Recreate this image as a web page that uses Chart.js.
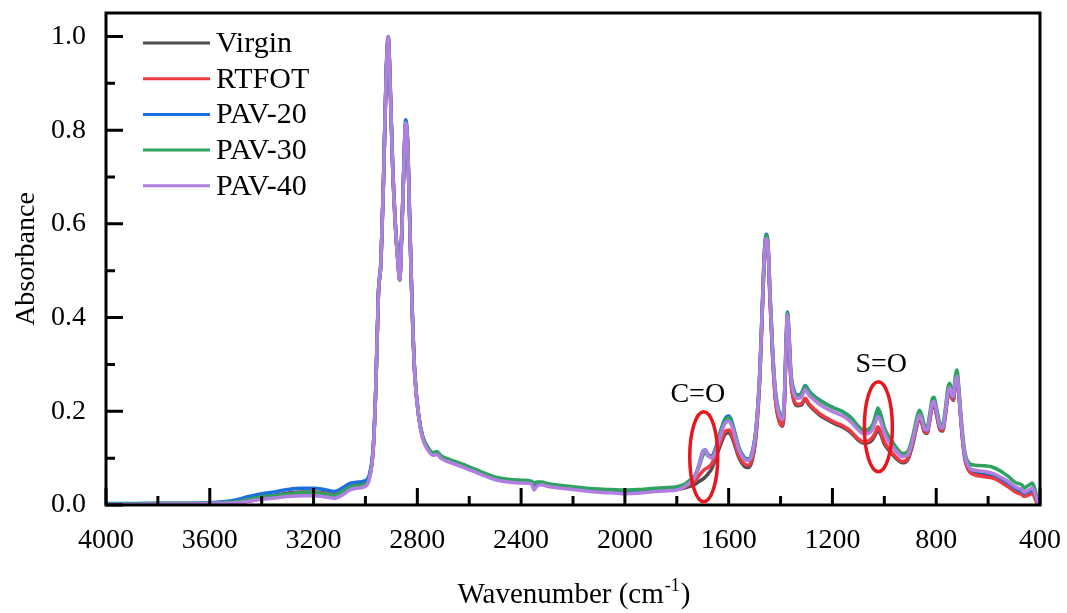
<!DOCTYPE html>
<html>
<head>
<meta charset="utf-8">
<script src="https://cdn.jsdelivr.net/npm/chart.js@4.4.1/dist/chart.umd.min.js"></script>
<style>
  html, body { margin: 0; padding: 0; background: #fff; }
  #wrap { width: 1067px; height: 613px; }
</style>
</head>
<body>
<div id="wrap"><canvas id="ftir" width="1067" height="613"></canvas></div>
<script>
// wavenumbers (cm-1), high to low
const wavenumbers = [
  4000, 3900, 3800, 3700, 3600, 3550, 3500, 3450, 3400, 3350, 3300, 3250, 3200, 3150, 3120, 3090, 3060, 3030, 3000,
  2985, 2970, 2960, 2950, 2940, 2930, 2920, 2912, 2905, 2895, 2885, 2875, 2868, 2860, 2852, 2845, 2838, 2830, 2820, 2810, 2795,
  2780, 2760, 2740, 2725, 2710, 2690, 2660, 2620, 2580, 2540, 2500, 2450, 2400, 2360, 2350, 2340, 2320, 2300, 2250, 2200, 2150, 2100, 2050, 2000, 1950, 1900, 1850, 1800,
  1770, 1750, 1730, 1715, 1700, 1690, 1680, 1665, 1650, 1630, 1615, 1600, 1590, 1575, 1560, 1540, 1525, 1510, 1495,
  1480, 1470, 1462, 1455, 1448, 1440, 1430, 1420, 1405, 1392, 1385, 1378, 1373, 1368, 1360, 1350,
  1335, 1320, 1305, 1290, 1270, 1250, 1220, 1190, 1160, 1130, 1100, 1080, 1060, 1045, 1032, 1025, 1015, 1000,
  985, 970, 950, 930, 910, 890, 875, 865, 855, 845, 835, 825, 815, 808, 798, 785, 775, 765, 755, 748, 740, 734, 727, 720, 712, 705,
  695, 685, 670, 650, 620, 600, 580, 560, 540, 520, 500, 485, 470, 460, 450, 440, 430, 420, 410, 400
];

const virgin = [
  .002, .002, .003, .003, .004, .005, .008, .013, .018, .021, .025, .028, .028, .025, .022, .030, .040, .043, .047,
  .060, .12, .25, .45, .52, .70, .92, .995, .90, .72, .60, .52, .48, .58, .72, .81, .78, .62, .42, .28, .19,
  .145, .12, .108, .11, .102, .096, .09, .082, .073, .064, .056, .051, .049, .047, .042, .045, .045, .042, .038, .035, .032, .030, .029, .027, .028, .030, .032, .034,
  .036, .040, .044, .050, .055, .060, .066, .078, .100, .130, .150, .154, .148, .125, .100, .083, .080, .094, .145,
  .270, .420, .530, .565, .540, .430, .310, .225, .178, .168, .215, .345, .395, .355, .265, .225,
  .212, .213, .225, .213, .202, .192, .182, .173, .166, .155, .138, .132, .133, .140, .153, .160, .152, .130,
  .118, .108, .097, .090, .096, .130, .168, .185, .173, .155, .153, .180, .210, .213, .190, .160, .158, .190, .233, .243, .228, .223, .253, .268, .230, .180,
  .120, .088, .072, .067, .064, .062, .060, .056, .050, .043, .035, .030, .027, .022, .025, .028, .032, .022, .006, .000
];

const rtfot = [
  .001, .001, .002, .002, .002, .003, .004, .008, .014, .019, .023, .026, .026, .024, .021, .029, .039, .042, .046,
  .060, .12, .25, .45, .52, .70, .92, .995, .90, .72, .60, .52, .48, .58, .72, .81, .78, .62, .42, .28, .19,
  .145, .12, .108, .11, .102, .096, .09, .082, .073, .064, .056, .051, .049, .047, .042, .045, .045, .042, .038, .035, .032, .029, .028, .026, .027, .029, .031, .033,
  .038, .045, .052, .062, .072, .077, .080, .088, .108, .137, .156, .160, .154, .130, .105, .088, .085, .098, .148,
  .272, .420, .530, .565, .540, .430, .310, .228, .180, .170, .218, .348, .398, .358, .268, .228,
  .215, .216, .228, .216, .205, .195, .185, .176, .169, .158, .141, .135, .137, .145, .158, .167, .158, .135,
  .122, .112, .100, .093, .099, .133, .170, .187, .175, .157, .155, .182, .212, .215, .192, .162, .160, .192, .235, .245, .230, .225, .255, .270, .232, .182,
  .122, .088, .070, .064, .061, .059, .057, .052, .045, .038, .030, .025, .022, .018, .020, .022, .025, .015, .002, .000
];

const pav20 = [
  .003, .003, .004, .004, .005, .007, .011, .018, .024, .028, .033, .036, .036, .032, .029, .036, .046, .049, .052,
  .065, .125, .255, .455, .525, .705, .925, 1.0, .905, .725, .605, .525, .485, .585, .725, .822, .785, .625, .425, .285, .193,
  .147, .121, .109, .111, .103, .097, .091, .083, .074, .065, .057, .052, .050, .048, .036, .045, .046, .043, .039, .036, .033, .031, .030, .028, .029, .031, .033, .035,
  .040, .050, .062, .085, .114, .118, .108, .105, .122, .160, .183, .190, .182, .152, .122, .102, .098, .112, .162,
  .285, .430, .545, .578, .555, .445, .325, .245, .197, .188, .232, .362, .412, .372, .282, .248,
  .235, .238, .255, .243, .232, .224, .214, .206, .199, .187, .167, .158, .158, .167, .185, .195, .185, .158,
  .140, .128, .113, .104, .108, .140, .176, .193, .181, .162, .160, .187, .218, .221, .197, .167, .165, .197, .240, .250, .235, .230, .260, .276, .236, .186,
  .126, .094, .078, .073, .070, .068, .065, .060, .053, .046, .038, .033, .030, .025, .028, .030, .034, .024, .008, .001
];

const pav30 = [
  .002, .002, .003, .003, .004, .005, .007, .012, .017, .020, .023, .026, .026, .023, .021, .029, .038, .041, .045,
  .058, .12, .25, .45, .52, .70, .92, .998, .90, .72, .60, .52, .48, .58, .72, .815, .78, .62, .42, .28, .19,
  .148, .124, .112, .114, .106, .100, .094, .086, .077, .068, .060, .055, .053, .051, .047, .049, .049, .046, .042, .039, .036, .034, .033, .032, .033, .035, .037, .039,
  .044, .053, .062, .080, .105, .112, .105, .103, .120, .157, .180, .186, .178, .150, .120, .100, .097, .110, .160,
  .283, .430, .540, .575, .552, .442, .322, .242, .195, .186, .230, .360, .410, .370, .280, .247,
  .234, .237, .254, .242, .232, .224, .214, .206, .199, .187, .168, .160, .162, .172, .195, .207, .196, .166,
  .148, .136, .120, .110, .114, .148, .186, .202, .190, .170, .167, .195, .227, .230, .205, .174, .172, .205, .250, .260, .245, .240, .272, .288, .245, .195,
  .135, .102, .088, .085, .084, .083, .080, .075, .068, .060, .050, .046, .043, .036, .040, .043, .047, .035, .012, .002
];

const pav40 = [
  .001, .001, .002, .002, .003, .004, .005, .008, .012, .015, .018, .020, .020, .017, .014, .021, .032, .036, .040,
  .055, .118, .25, .45, .52, .70, .92, 1.0, .90, .72, .60, .52, .48, .58, .72, .815, .78, .62, .42, .28, .19,
  .143, .118, .106, .108, .100, .094, .088, .080, .071, .062, .054, .049, .047, .045, .032, .040, .043, .040, .036, .033, .030, .027, .026, .024, .025, .028, .030, .032,
  .039, .048, .060, .082, .112, .117, .106, .100, .115, .150, .173, .178, .172, .145, .117, .098, .095, .108, .157,
  .280, .425, .535, .568, .548, .440, .320, .238, .192, .183, .228, .357, .405, .365, .275, .240,
  .228, .230, .246, .234, .224, .215, .205, .197, .190, .178, .160, .152, .153, .162, .180, .189, .180, .154,
  .137, .126, .112, .103, .107, .140, .176, .192, .180, .162, .160, .187, .218, .221, .197, .167, .165, .197, .240, .250, .235, .232, .262, .275, .236, .186,
  .127, .095, .078, .074, .072, .070, .067, .062, .056, .049, .041, .036, .033, .027, .030, .033, .037, .026, .008, .001
];

const seriesNames = ["Virgin", "RTFOT", "PAV-20", "PAV-30", "PAV-40"];
const seriesValues = [virgin, rtfot, pav20, pav30, pav40];
const seriesColors = ["#4f4f4f", "#ee3b43", "#1c6fdc", "#2ea35f", "#b07fe0"];

const xTicks = [4000, 3600, 3200, 2800, 2400, 2000, 1600, 1200, 800, 400];
const yTicks = [0.0, 0.2, 0.4, 0.6, 0.8, 1.0];

// marked bands: label, wavenumber, absorbance of the circle centre, label position
const bandLabels = ["C=O", "S=O"];
const bandCentres = [[1696, 0.103], [1023, 0.167]];
const bandLabelAt = [[1719, 0.235], [1012, 0.30]];

const serif = "'Liberation Serif', 'Times New Roman', serif";
Chart.defaults.font.family = serif;
Chart.defaults.color = "#000";

const datasets = seriesNames.map((name, i) => ({
  label: name,
  data: wavenumbers.map((w, j) => ({ x: w, y: seriesValues[i][j] })),
  borderColor: seriesColors[i],
  backgroundColor: seriesColors[i],
  borderWidth: 3.5,
  pointRadius: 0,
  fill: false,
  cubicInterpolationMode: 'monotone',
  order: seriesNames.length - i   // last series ends on top
}));

const frame = {
  id: 'frame',
  afterDatasetsDraw(chart) {
    const { ctx, chartArea: a, scales: { x, y } } = chart;
    ctx.save();
    ctx.strokeStyle = "#000";
    ctx.lineWidth = 3;
    ctx.beginPath();
    // x ticks, major every 400, minor every 200, pointing inwards
    for (let w = 4000; w >= 400; w -= 200) {
      const px = x.getPixelForValue(w);
      const len = (w % 400 === 0) ? 17 : 9;
      ctx.moveTo(px, a.bottom);
      ctx.lineTo(px, a.bottom - len);
    }
    for (let k = 0; k <= 10; k++) {
      const py = y.getPixelForValue(k / 10);
      const len = (k % 2 === 0) ? 17 : 9;
      ctx.moveTo(a.left, py);
      ctx.lineTo(a.left + len, py);
    }
    ctx.stroke();
    ctx.strokeRect(a.left, a.top, a.right - a.left, a.bottom - a.top);

    // band circles
    ctx.strokeStyle = "#e8161e";
    ctx.lineWidth = 3.5;
    bandCentres.forEach(([w, v]) => {
      ctx.beginPath();
      ctx.ellipse(x.getPixelForValue(w), y.getPixelForValue(v), 14, 45, 0, 0, Math.PI * 2);
      ctx.stroke();
    });
    ctx.fillStyle = "#000";
    ctx.font = "28px " + serif;
    ctx.textAlign = "center";
    ctx.textBaseline = "middle";
    bandLabels.forEach((t, i) => {
      ctx.fillText(t, x.getPixelForValue(bandLabelAt[i][0]), y.getPixelForValue(bandLabelAt[i][1]));
    });

    // legend inside the plot
    ctx.textAlign = "left";
    ctx.font = "30px " + serif;
    chart.data.datasets.forEach((ds, i) => {
      const ly = a.top + 30 + i * 35.7;
      ctx.strokeStyle = ds.borderColor;
      ctx.lineWidth = 3;
      ctx.beginPath();
      ctx.moveTo(a.left + 37, ly);
      ctx.lineTo(a.left + 104, ly);
      ctx.stroke();
      ctx.fillText(ds.label, a.left + 110, ly + 1);
    });

    // x axis title with superscript, centred under the plot
    const main = "Wavenumber (cm", sup = "-1", tail = ")";
    ctx.font = "29px " + serif;
    const w1 = ctx.measureText(main).width, w3 = ctx.measureText(tail).width;
    ctx.font = "18px " + serif;
    const w2 = ctx.measureText(sup).width;
    const tx = (a.left + a.right) / 2 - (w1 + w2 + w3) / 2;
    const base = 603;
    ctx.textBaseline = "alphabetic";
    ctx.font = "29px " + serif;
    ctx.fillText(main, tx, base);
    ctx.font = "18px " + serif;
    ctx.fillText(sup, tx + w1 + 1, base - 12);
    ctx.font = "29px " + serif;
    ctx.fillText(tail, tx + w1 + w2 + 2, base);
    ctx.restore();
  }
};

new Chart(document.getElementById("ftir"), {
  type: 'line',
  data: { datasets: datasets },
  options: {
    responsive: false,
    animation: false,
    devicePixelRatio: 1,
    layout: { padding: { top: 13, right: 27, bottom: 0, left: 0 } },
    plugins: {
      legend: { display: false },
      tooltip: { enabled: false }
    },
    scales: {
      x: {
        type: 'linear',
        reverse: true,
        min: 400,
        max: 4000,
        afterFit(scale) { scale.height = 108; scale.paddingLeft = 0; scale.paddingRight = 0; },
        afterBuildTicks(scale) { scale.ticks = xTicks.map(v => ({ value: v })); },
        grid: { display: false, drawTicks: false },
        border: { display: false },
        ticks: {
          padding: 19,
          maxRotation: 0,
          autoSkip: false,
          font: { size: 28 },
          color: "#000",
          callback: (v) => String(v)
        }
      },
      y: {
        min: 0,
        max: 1.05,
        afterFit(scale) { scale.width = 106; scale.paddingTop = 0; scale.paddingBottom = 0; },
        afterBuildTicks(scale) { scale.ticks = yTicks.map(v => ({ value: v })); },
        grid: { display: false, drawTicks: false },
        border: { display: false },
        title: {
          display: true,
          text: 'Absorbance',
          font: { size: 28 },
          color: "#000",
          padding: { top: 10, bottom: 0 }
        },
        ticks: {
          padding: 20,
          font: { size: 28 },
          color: "#000",
          callback: (v) => Number(v).toFixed(1)
        }
      }
    }
  },
  plugins: [frame]
});
</script>
</body>
</html>
